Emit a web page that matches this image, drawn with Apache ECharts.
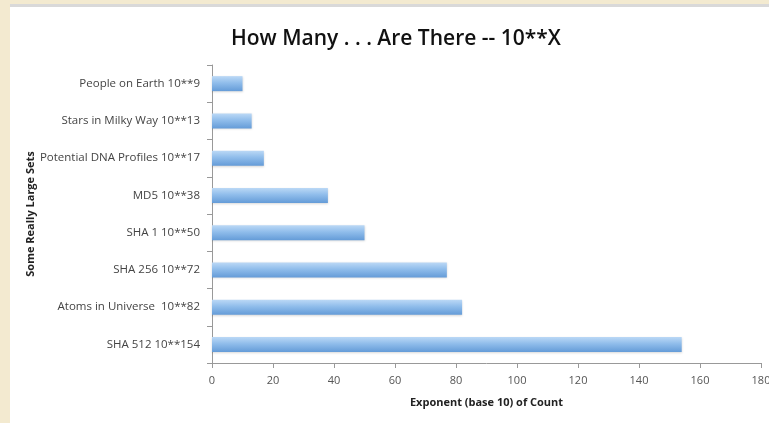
<!DOCTYPE html>
<html>
<head>
<meta charset="utf-8">
<script src="https://cdn.jsdelivr.net/npm/echarts@6/dist/echarts.min.js"></script>
<style>
  html, body { margin: 0; padding: 0; background: #f3ead0; }
  #chart { width: 769px; height: 423px; }
</style>
</head>
<body>
<div id="chart"></div>
<script>
// categories, top to bottom as in the picture
const setNames = [
  'People on Earth 10**9',
  'Stars in Milky Way 10**13',
  'Potential DNA Profiles 10**17',
  'MD5 10**38',
  'SHA 1 10**50',
  'SHA 256 10**72',
  'Atoms in Universe  10**82',
  'SHA 512 10**154'
]
// bar lengths as drawn (exponent of base 10)
const exponents = [10, 13, 17, 38, 50, 77, 82, 154]
const xTicks = [0, 20, 40, 60, 80, 100, 120, 140, 160, 180]

const chart = echarts.init(document.getElementById('chart'))

chart.setOption({
  animation: false,
  backgroundColor: '#f3ead0',
  graphic: [
    { type: 'rect', shape: { x: 10, y: 4, width: 759, height: 3 }, style: { fill: '#d9d9d9' }, z: -10 },
    { type: 'rect', shape: { x: 10, y: 7, width: 759, height: 416 }, style: { fill: '#ffffff' }, z: -10 }
  ],
  title: {
    text: 'How Many . . . Are There -- 10**X',
    left: 226,
    top: 24,
    textStyle: { fontFamily: 'Open Sans', fontSize: 21, fontWeight: 600, color: '#111' }
  },
  grid: { left: 212, top: 65, right: 8, bottom: 60, outerBoundsMode: 'none', containLabel: false },
  xAxis: {
    type: 'value',
    min: xTicks[0],
    max: xTicks[xTicks.length - 1],
    interval: 20,
    name: 'Exponent (base 10) of Count',
    nameLocation: 'middle',
    nameGap: 34,
    nameMoveOverlap: false,
    nameTextStyle: { fontFamily: 'Open Sans', fontSize: 11, fontWeight: 'bold', color: '#222' },
    axisLine: { show: true, lineStyle: { color: '#999' } },
    axisTick: { show: true, length: 5, lineStyle: { color: '#999' } },
    axisLabel: { fontFamily: 'Open Sans', fontSize: 11, color: '#555', margin: 12 },
    splitLine: { show: false }
  },
  yAxis: {
    type: 'category',
    inverse: true,
    data: setNames,
    name: 'Some Really Large Sets',
    nameLocation: 'middle',
    nameGap: 176,
    nameRotate: 90,
    nameMoveOverlap: false,
    nameTextStyle: { fontFamily: 'Open Sans', fontSize: 11, fontWeight: 'bold', color: '#222' },
    axisLine: { show: true, lineStyle: { color: '#999' } },
    axisTick: { show: true, length: 5, lineStyle: { color: '#999' } },
    axisLabel: { fontFamily: 'Open Sans', fontSize: 11.5, color: '#444', margin: 12 }
  },
  series: [{
    type: 'bar',
    data: exponents,
    barWidth: 15,
    itemStyle: {
      color: new echarts.graphic.LinearGradient(0, 0, 0, 1, [
        { offset: 0, color: '#bcd9f6' },
        { offset: 0.45, color: '#90bdeb' },
        { offset: 1, color: '#659cd8' }
      ]),
      shadowColor: 'rgba(0,0,0,0.15)',
      shadowBlur: 2,
      shadowOffsetY: 1
    }
  }]
})
</script>
</body>
</html>
